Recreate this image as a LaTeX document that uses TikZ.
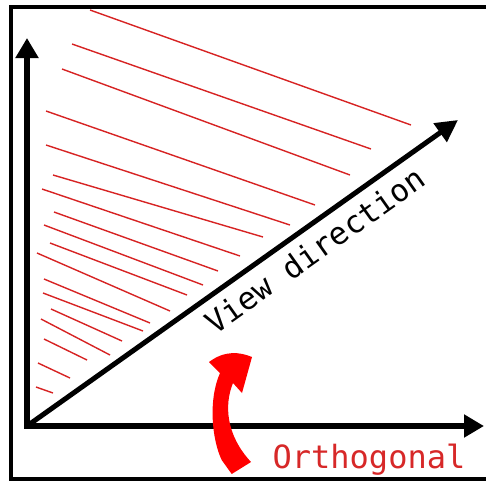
\documentclass[tikz,border=0pt]{standalone}
\usepackage{fontspec}
\setmonofont{DejaVu Sans Mono}
\usetikzlibrary{arrows.meta}
\definecolor{hatchred}{RGB}{215,35,35}
\definecolor{labelred}{RGB}{215,40,40}
\definecolor{arrowred}{RGB}{255,0,0}
\tikzset{
  frameline/.style={line width=3.5pt,black},
  axisline/.style={line width=6pt,black,-{Triangle[length=20pt,width=22pt]}},
  viewline/.style={line width=5pt,black,-{Triangle[length=22pt,width=22pt]}},
  hatchline/.style={line width=1.4pt,hatchred},
  viewlabel/.style={font=\ttfamily\fontsize{31}{36}\selectfont,inner sep=0pt},
  orthlabel/.style={font=\ttfamily\fontsize{32}{38}\selectfont,text=labelred,inner sep=0pt,anchor=base}
}
\begin{document}
\begin{tikzpicture}[x=1pt,y=-1pt]
\useasboundingbox (0,0) rectangle (486,483);
\fill[white] (0,0) rectangle (486,483);
% frame (right side cut off)
\draw[frameline] (486,7) -- (11,7) -- (11,479) -- (486,479);
% hatching
\foreach \xa/\ya/\xb/\yb in {90/10/411/125, 72/44/371/149, 62/69/350/175, 46/111/315/205, 46/145/290/225, 53/175/263/237, 42/189/240/256, 54/212/218/271, 44/225/203/285, 50/243/187/295, 37/253/170/311, 44/279/150/323, 43/293/143/331, 51/309/122/341, 41/319/110/355, 44/339/87/360, 38/363/70/378, 36/387/53/393}
  \draw[hatchline] (\xa,\ya) -- (\xb,\yb);
% axes
\coordinate (O) at (27,426);
\coordinate (Y) at (27,38);
\coordinate (X) at (484,426);
\coordinate (V) at (458,120);
\draw[axisline] (O) -- (Y);
\draw[axisline] (O) -- (X);
\draw[line width=6pt] (24,426) -- (O);
\draw[viewline] (O) -- (V);
\node[viewlabel,rotate=35.4] (vlabel) at (315,250) {View direction};
% curved red arrow
\fill[arrowred] (231.7,474) -- (221.7,460) .. controls (212,440) and (208,400) .. (220,373) -- (209,362) .. controls (225,350) and (240,352) .. (252,357) -- (242,393) -- (233,383) .. controls (224,405) and (226,435) .. (251,462) -- cycle;
\node[orthlabel] (olabel) at (369,468) {Orthogonal};
\end{tikzpicture}
\end{document}
